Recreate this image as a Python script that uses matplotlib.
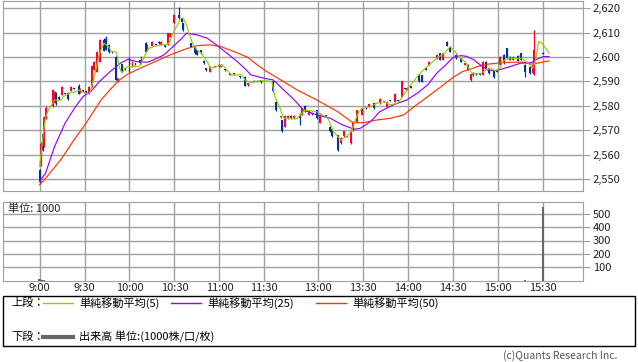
import numpy as np
import matplotlib
matplotlib.use("Agg")
import matplotlib.pyplot as plt
from matplotlib.patches import Rectangle
from matplotlib.lines import Line2D

plt.rcParams['font.family'] = ['Noto Sans CJK JP', 'DejaVu Sans']
plt.rcParams['font.size'] = 8

# bar index: 9:00 = 0 ... 11:30 = 150, 12:30 = 156 ... 15:30 = 336
tick_idx = [0, 30, 60, 90, 120, 150, 186, 216, 246, 276, 306, 336]
tick_lbl = ["9:00", "9:30", "10:00", "10:30", "11:00", "11:30",
            "13:00", "13:30", "14:00", "14:30", "15:00", "15:30"]

# 1-minute candles (o, h, l, c)
c_idx = [0, 1, 2, 3, 4, 9, 10, 11, 13, 15, 17, 19, 21, 23, 26, 27, 29, 31, 33, 35,
         36, 38, 40, 43, 44, 46, 48, 51, 52, 55, 57, 60, 62, 64, 67, 68, 71, 72, 75, 78,
         80, 81, 84, 86, 87, 90, 93, 95, 96, 101, 104, 105, 108, 110, 111, 114, 117, 120, 121, 124,
         127, 130, 134, 137, 139, 143, 145, 148, 156, 158, 161, 162, 164, 166, 168, 170, 174, 175, 177, 180,
         182, 185, 187, 191, 194, 195, 199, 201, 203, 205, 208, 209, 212, 215, 218, 220, 223, 227, 230, 232,
         234, 237, 239, 242, 244, 245, 248, 253, 255, 258, 260, 265, 267, 269, 272, 274, 278, 281, 284, 286,
         288, 289, 291, 294, 296, 298, 300, 303, 305, 307, 310, 312, 314, 316, 319, 321, 324, 327, 329, 330,
         336]
c_open = [2553.5, 2556.5, 2568.5, 2563.5, 2575, 2580, 2581, 2585, 2583.5, 2584.5, 2585.2, 2585.4, 2586, 2587.2, 2588, 2585.5, 2586.2, 2585.7, 2585, 2588,
          2594.7, 2594, 2598, 2607, 2607.5, 2605, 2602.2, 2600.2, 2590, 2597, 2595.2, 2599.5, 2596, 2597.2, 2598.8, 2597.5, 2605.7, 2603.6, 2604.6, 2605.2,
          2606.3, 2605, 2605, 2605, 2608.4, 2614, 2617.3, 2616, 2613.9, 2605.7, 2604.3, 2602.9, 2602.9, 2598.4, 2595.4, 2594, 2596.2, 2596.8, 2596, 2595,
          2593.4, 2593.2, 2592.2, 2592, 2588.5, 2590.2, 2590.1, 2589.8, 2590, 2581.7, 2575.3, 2574, 2571.5, 2575, 2576, 2575, 2576, 2576.3, 2580, 2576.3,
          2576.7, 2578.3, 2573, 2576, 2571.5, 2570.5, 2568, 2564.7, 2567.5, 2567.5, 2564.7, 2570, 2573.5, 2576.3, 2579.2, 2579.7, 2581, 2581, 2581.9, 2579.7,
          2582.2, 2581.7, 2582.2, 2583.8, 2587.2, 2586.5, 2587.7, 2592.7, 2592.5, 2595.4, 2596.8, 2599.5, 2601.6, 2598.8, 2606, 2604.3, 2600.9, 2599.5, 2596.8, 2596.8,
          2590.5, 2593.5, 2593.2, 2593.4, 2592.7, 2598.1, 2595.4, 2594.7, 2594.2, 2596.8, 2600.9, 2603.6, 2600.2, 2599, 2600.5, 2601.6, 2596.8, 2596, 2593.4, 2593,
          2601.8]
c_high = [2554, 2565, 2569, 2576, 2580, 2587, 2586, 2585.5, 2584, 2588, 2585.4, 2585.8, 2588, 2587.4, 2589, 2587.2, 2586.4, 2585.9, 2588.2, 2596.6,
          2598.3, 2602.3, 2607.3, 2608, 2608.8, 2605.3, 2602.4, 2600.4, 2591.5, 2597.3, 2595.4, 2600, 2598.2, 2597.4, 2599, 2600.4, 2606, 2605.2, 2606.5, 2605.4,
          2606.5, 2606.4, 2605.2, 2610, 2610, 2617.5, 2620.7, 2616.2, 2614.1, 2605.9, 2604.5, 2603.1, 2603.1, 2598.6, 2595.6, 2596.2, 2596.4, 2597, 2597, 2595.2,
          2593.6, 2593.4, 2592.4, 2592.2, 2589.5, 2590.4, 2590.3, 2590, 2590.2, 2582, 2575.9, 2574.2, 2576.2, 2576.2, 2576.2, 2576.2, 2577, 2579.2, 2580.2, 2577.9,
          2576.9, 2578.5, 2576.5, 2576.2, 2571.7, 2570.7, 2568.2, 2567.2, 2569.7, 2567.7, 2569.7, 2573.7, 2578.5, 2579.2, 2579.4, 2580.8, 2581.2, 2583.2, 2582.1, 2581.9,
          2582.4, 2585.2, 2582.4, 2590.2, 2587.4, 2587.7, 2587.9, 2592.9, 2592.7, 2595.6, 2598.2, 2601.2, 2601.8, 2601.8, 2606.5, 2604.5, 2601.1, 2599.7, 2597.7, 2597,
          2593.2, 2593.7, 2593.4, 2593.6, 2598.2, 2598.3, 2595.6, 2594.9, 2594.4, 2600.4, 2601.1, 2603.8, 2600.4, 2600.4, 2600.7, 2601.8, 2597, 2596.2, 2597, 2611,
          2602]
c_low = [2548, 2555.5, 2561.5, 2563, 2574.5, 2579.5, 2581, 2580.5, 2582.5, 2584.5, 2584.8, 2582.5, 2586, 2586.8, 2585, 2585.3, 2585.8, 2585.3, 2584.8, 2587.8,
         2594.5, 2593.8, 2597.8, 2602.3, 2602.8, 2601.8, 2601.8, 2590.4, 2589.8, 2593.8, 2594.8, 2593.8, 2595.8, 2596.8, 2597.3, 2597.3, 2602, 2603.4, 2604.4, 2604.8,
         2605.5, 2604.8, 2604.1, 2604.8, 2608.2, 2613.8, 2615.7, 2614.3, 2610.9, 2604.1, 2601.4, 2600.7, 2601.4, 2597.3, 2594.3, 2593.8, 2595.8, 2596, 2595.8, 2594.3,
         2592.5, 2592.8, 2591.6, 2588, 2588.3, 2589.6, 2589.7, 2589.4, 2585.6, 2578, 2575.1, 2569.3, 2571.3, 2574.8, 2574.8, 2574.8, 2572, 2576.1, 2577.5, 2576.1,
         2576.3, 2574.8, 2572.8, 2575.6, 2569.3, 2567.3, 2561.5, 2564.5, 2567.3, 2567.1, 2564.5, 2569.8, 2573.3, 2576.1, 2578.8, 2579.5, 2578.8, 2580.8, 2581.5, 2579.5,
         2581.8, 2581.5, 2581.8, 2583.6, 2586.8, 2586.3, 2587.3, 2589.8, 2589.6, 2594.5, 2596.6, 2599.3, 2598.6, 2598.6, 2604.4, 2602, 2599.3, 2597.9, 2596.6, 2594.5,
         2590.3, 2592.3, 2592.8, 2592.6, 2592.5, 2595.5, 2593.2, 2591.5, 2593.8, 2596.6, 2597.3, 2599.3, 2598.6, 2598.8, 2598.3, 2598.6, 2591.7, 2593.2, 2593.2, 2592.7,
         2601.2]
c_close = [2549, 2564.5, 2562, 2575.5, 2579, 2586.3, 2585.8, 2581, 2582.8, 2587.6, 2585, 2582.8, 2587.6, 2587, 2585, 2587, 2586, 2585.5, 2587.9, 2596.4,
           2598, 2602, 2607, 2602.5, 2603, 2602, 2602, 2590.6, 2591.3, 2594, 2595, 2594, 2598, 2597, 2597.5, 2600.2, 2602.2, 2605, 2606.3, 2605,
           2605.7, 2606.2, 2604.3, 2609.8, 2609.8, 2617.3, 2615.9, 2614.5, 2611.1, 2604.3, 2601.6, 2600.9, 2601.6, 2597.5, 2594.5, 2596, 2596, 2596.2, 2596.8, 2594.5,
           2592.7, 2593, 2591.8, 2588.2, 2589.3, 2589.8, 2589.9, 2589.6, 2586, 2578.3, 2575.7, 2569.5, 2576, 2576, 2575, 2576, 2575, 2579, 2577.7, 2577.7,
           2576.5, 2575, 2576.3, 2575.8, 2569.5, 2567.5, 2562, 2567, 2569.5, 2567.3, 2569.5, 2573.5, 2578.3, 2579, 2579, 2580.6, 2579, 2583, 2581.7, 2581.7,
           2582, 2585, 2582, 2590, 2587, 2587.5, 2587.5, 2590, 2589.8, 2594.7, 2598, 2601, 2598.8, 2601.6, 2604.6, 2602.2, 2599.5, 2598.1, 2597.5, 2594.7,
           2593, 2592.5, 2593, 2592.8, 2598, 2595.7, 2593.4, 2591.7, 2594, 2600.2, 2597.5, 2599.5, 2598.8, 2600.2, 2598.5, 2598.8, 2594, 2593.4, 2596.8, 2603,
           2601.4]
# volume (thousands) -- almost everything is too small to see except the close
vol_idx = [0, 1, 2, 3, 324, 336]
vol_val = [12, 6, 4, 3, 6, 553]

# moving averages
ma5_idx = [0, 2, 4, 6, 10, 14, 16, 20, 24, 27, 30, 33, 34, 36, 38, 40, 43, 46, 48, 51,
           52, 53, 55, 57, 59, 66, 68, 71, 73, 76, 81, 85, 87, 89, 92, 94, 96, 98, 102, 105,
           108, 112, 114, 118, 122, 125, 128, 135, 137, 141, 147, 155, 157, 160, 163, 172, 177, 185, 191, 193,
           196, 201, 205, 208, 212, 215, 221, 225, 230, 234, 239, 243, 246, 252, 256, 260, 265, 270, 274, 278,
           281, 284, 287, 289, 294, 298, 301, 304, 307, 309, 312, 322, 326, 329, 331, 333, 334, 337, 340]
ma5_val = [2555.1, 2566, 2575.6, 2578.3, 2582.4, 2582.2, 2583.8, 2585.2, 2585.8, 2586.5, 2585.2, 2584.8, 2586.5, 2590.6, 2596.1, 2601.6, 2605.7, 2604.3, 2602.2, 2602.2,
           2600.2, 2596.1, 2593.4, 2595.4, 2596.1, 2596.1, 2597.5, 2601.6, 2603.6, 2604.3, 2605, 2605, 2606.3, 2609.8, 2613.2, 2615.9, 2615.9, 2613.2, 2605.7, 2602.9,
           2601.6, 2598.1, 2595.4, 2596.1, 2596.8, 2594.7, 2592.7, 2592.7, 2590.6, 2589.5, 2590.4, 2590, 2583.8, 2579.7, 2574.9, 2574.9, 2578.3, 2577.6, 2575.6, 2574.2,
           2569.5, 2566, 2567.4, 2569.5, 2576.3, 2579, 2579.7, 2581.1, 2581.7, 2580.4, 2581.1, 2584.5, 2587.2, 2592, 2594.7, 2596.8, 2599.5, 2601.6, 2604.3, 2601.6,
           2599.5, 2598.1, 2594.7, 2593.1, 2593.1, 2594.7, 2595.4, 2594.4, 2595.4, 2598.1, 2599.5, 2599.5, 2597.5, 2595.4, 2598.8, 2606.3, 2606.3, 2604.3, 2601.6]

ma25_idx = [0, 4, 10, 17, 24, 29, 34, 40, 47, 54, 59, 65, 72, 76, 83, 89, 95, 98, 105, 112,
            118, 125, 132, 138, 141, 150, 156, 163, 170, 176, 185, 194, 202, 210, 214, 221, 227, 236, 245, 252,
            259, 265, 271, 276, 281, 285, 290, 294, 299, 303, 308, 314, 321, 328, 332, 336, 340]
ma25_val = [2549, 2552.4, 2563.3, 2572.9, 2579.7, 2583.8, 2585.8, 2590, 2594, 2597.5, 2599.1, 2598.1, 2597.9, 2598.8, 2600.9, 2604.3, 2607.7, 2609.8, 2609.1, 2607.7,
            2605, 2601.6, 2598.1, 2594.7, 2592.7, 2591.3, 2590.6, 2586.5, 2582.4, 2578.3, 2576.3, 2574.9, 2572.2, 2570.4, 2570.8, 2573.6, 2577.6, 2580.4, 2582.4, 2585.2,
            2588.6, 2593.4, 2596.8, 2599.9, 2600.6, 2600.3, 2598.8, 2596.8, 2594.7, 2594.4, 2595, 2596.1, 2597.5, 2597.7, 2599.1, 2600.2, 2600.2]

ma50_idx = [0, 5, 14, 23, 31, 41, 52, 58, 67, 77, 87, 97, 105, 114, 121, 130, 139, 141, 150, 161,
            172, 185, 199, 209, 216, 225, 234, 243, 250, 259, 268, 275, 282, 286, 292, 299, 308, 317, 323, 328,
            332, 337, 340]
ma50_val = [2547.6, 2551, 2557.8, 2566, 2572.9, 2582.4, 2590, 2592.7, 2595.4, 2598.1, 2600.9, 2603.2, 2604.7, 2605, 2604.3, 2602.2, 2599.9, 2598.8, 2594.7, 2590.6,
            2586.5, 2582.4, 2577.6, 2573.1, 2573.1, 2574.2, 2574.9, 2576.3, 2579.7, 2583.8, 2587.9, 2591.3, 2594, 2594.7, 2596.1, 2597.1, 2597.7, 2597.9, 2597.9, 2597.1,
            2597.5, 2598.1, 2598.4]

W, H = 638, 362
fig = plt.figure(figsize=(W / 100, H / 100), dpi=100)
grid_c = "#a0a0a0"

ax = fig.add_axes([3 / W, 1 - 190.7 / H, 580 / W, 189.7 / H])
vax = fig.add_axes([3 / W, 1 - 280.5 / H, 580 / W, 78.8 / H])

o = np.array(c_open)
c = np.array(c_close)
up = c >= o
col = np.where(up, "#ff0033", "#003399")
body_lo = np.minimum(o, c)
body_h = np.maximum(np.abs(c - o), 0.45)
ax.vlines(c_idx, c_low, c_high, colors=col, linewidth=0.9, zorder=3)
ax.bar(c_idx, body_h, bottom=body_lo, width=1.3, color=col, linewidth=0, zorder=3)

ax.plot(ma50_idx, ma50_val, color="#ff3300", lw=0.85, zorder=4)
ax.plot(ma25_idx, ma25_val, color="#9900ff", lw=0.85, zorder=4)
ax.plot(ma5_idx, ma5_val, color="#99cc00", lw=0.85, zorder=5)

xlim = (-24.4, 362.6)
for a in (ax, vax):
    a.set_xlim(*xlim)
    a.set_xticks(tick_idx)
    a.grid(True, color=grid_c, lw=1)
    a.set_axisbelow(True)
    for s in a.spines.values():
        s.set_color(grid_c)
    a.yaxis.tick_right()
    a.tick_params(axis="y", length=5, color=grid_c, pad=2, labelsize=8, labelcolor="#222222")

ax.set_ylim(2545.2, 2623)
ax.set_yticks(np.arange(2550, 2621, 10))
ax.set_yticklabels([f"{v:,}" for v in range(2550, 2621, 10)])
ax.tick_params(axis="x", length=0, labelbottom=False)

vax.bar(vol_idx, vol_val, width=1.5, color="#666666", linewidth=0, zorder=3)
vax.set_ylim(0, 591)
vax.set_yticks([100, 200, 300, 400, 500])
vax.set_xticklabels(tick_lbl)
vax.tick_params(axis="x", length=0, pad=2, labelsize=8, labelcolor="#222222")
vax.text(5 / 580, 0.985, "単位: 1000", transform=vax.transAxes, ha="left", va="top",
         fontsize=8, color="#222222")

# legend box
fig.patches.append(Rectangle((3 / W, 1 - 346 / H), 632 / W, 50.3 / H, transform=fig.transFigure,
                             fill=False, edgecolor="black", lw=1))


def fx(px):
    return px / W


def fy(py):
    return 1 - py / H


fig.text(fx(11), fy(303), "上段：", ha="left", va="center", fontsize=8)
legend_items = [(43, "#99cc00", "単純移動平均(5)"),
                (171, "#9900ff", "単純移動平均(25)"),
                (316, "#ff3300", "単純移動平均(50)")]
for x0, cc, lab in legend_items:
    fig.add_artist(Line2D([fx(x0), fx(x0 + 30)], [fy(303), fy(303)], color=cc, lw=1,
                          transform=fig.transFigure))
    fig.text(fx(x0 + 36), fy(303), lab, ha="left", va="center", fontsize=8)

fig.text(fx(11), fy(337), "下段：", ha="left", va="center", fontsize=8)
fig.add_artist(Line2D([fx(43), fx(73)], [fy(337), fy(337)], color="#666666", lw=3,
                      transform=fig.transFigure))
fig.text(fx(79), fy(337), "出来高 単位:(1000株/口/枚)", ha="left", va="center", fontsize=8)

fig.text(fx(617), fy(356), "(c)Quants Research Inc.", ha="right", va="center",
         fontsize=7.5, color="#555555")

fig.savefig("out.png", dpi=100)
